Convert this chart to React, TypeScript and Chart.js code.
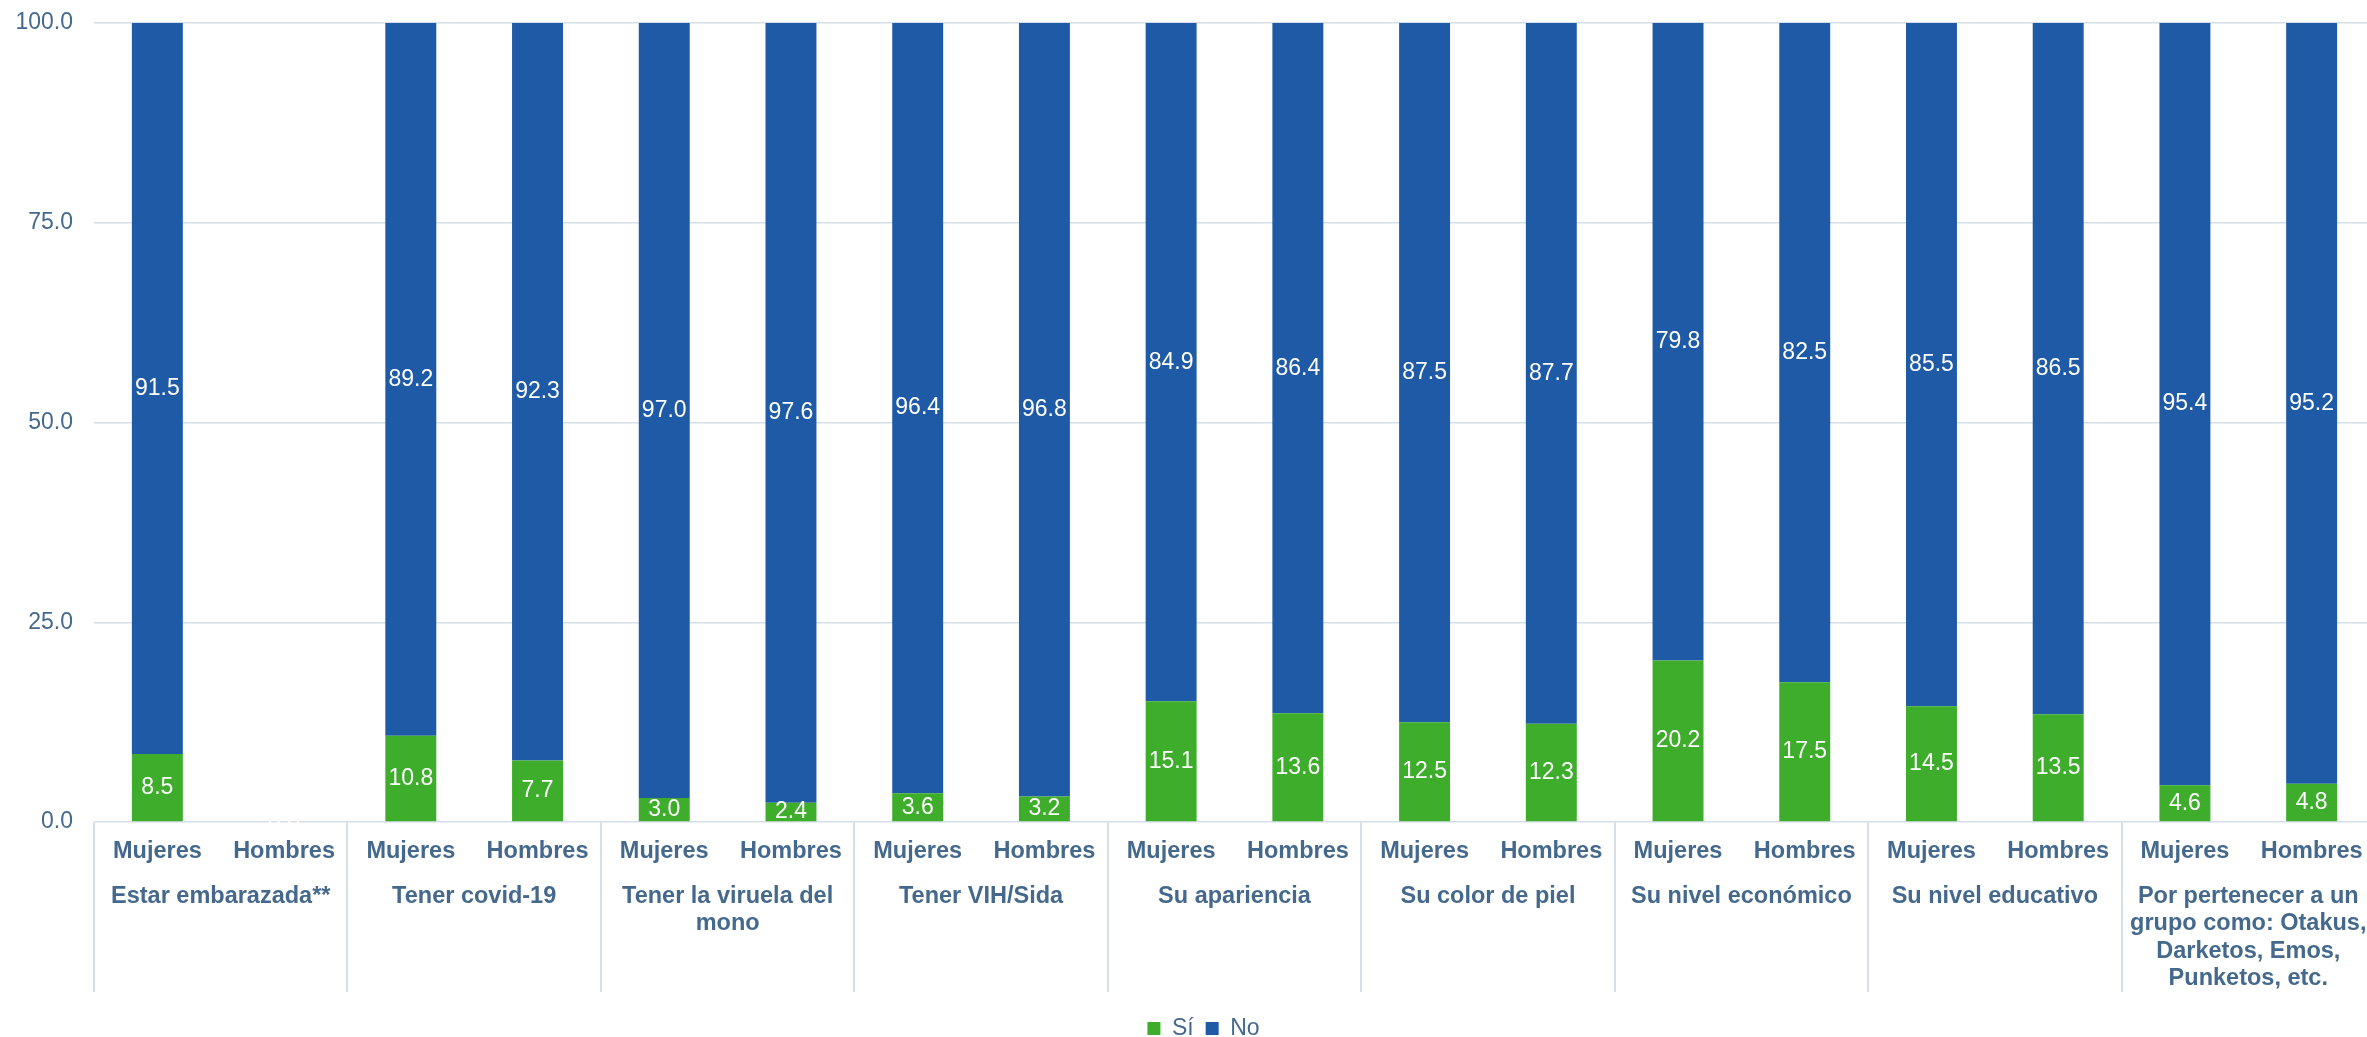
import React, { useEffect, useRef } from "react";
import { Chart, registerables } from "chart.js";

Chart.register(...registerables);

const groups: (string | string[])[] = [
  "Estar embarazada**",
  "Tener covid-19",
  ["Tener la viruela del", "mono"],
  "Tener VIH/Sida",
  "Su apariencia",
  "Su color de piel",
  "Su nivel económico",
  "Su nivel educativo",
  ["Por pertenecer a un", "grupo como: Otakus,", "Darketos, Emos,", "Punketos, etc."],
];
const sexes = ["Mujeres", "Hombres"];
const siValues = [8.5, 0, 10.8, 7.7, 3.0, 2.4, 3.6, 3.2, 15.1, 13.6, 12.5, 12.3, 20.2, 17.5, 14.5, 13.5, 4.6, 4.8];
const noValues = [91.5, 0, 89.2, 92.3, 97.0, 97.6, 96.4, 96.8, 84.9, 86.4, 87.5, 87.7, 79.8, 82.5, 85.5, 86.5, 95.4, 95.2];
const yTicks = [0, 25, 50, 75, 100];

const FONT = "'Liberation Sans', Arial, sans-serif";
const TEXT = "#44698d";
const GRID = "#d5dfe9";
const GREEN = "#3dad2b";
const BLUE = "#1f5aa7";

const barLabels = groups.flatMap(() => sexes);

const valueLabelPlugin = {
  id: "valueLabels",
  afterDatasetsDraw(chart: any) {
    const ctx = chart.ctx;
    ctx.save();
    ctx.font = `23px ${FONT}`;
    ctx.fillStyle = "#ffffff";
    ctx.textAlign = "center";
    ctx.textBaseline = "middle";
    chart.data.datasets.forEach((ds: any, di: number) => {
      const meta = chart.getDatasetMeta(di);
      meta.data.forEach((el: any, i: number) => {
        const v = ds.data[i];
        const y = (el.y + el.base) / 2;
        ctx.fillText(Number(v).toFixed(1), el.x, y);
      });
    });
    ctx.restore();
  },
};

const separatorPlugin = {
  id: "separators",
  afterDraw(chart: any) {
    const ctx = chart.ctx;
    const xs = chart.scales.x;
    const bottom = chart.chartArea.bottom;
    ctx.save();
    ctx.strokeStyle = GRID;
    ctx.lineWidth = 2;
    for (let g = 0; g <= groups.length; g++) {
      const px = Math.round(xs.getPixelForValue(g * sexes.length - 0.5));
      ctx.beginPath();
      ctx.moveTo(px, bottom);
      ctx.lineTo(px, 992);
      ctx.stroke();
    }
    ctx.restore();
  },
};

const legendShiftPlugin = {
  id: "legendShift",
  afterLayout(chart: any) {
    const lg = chart.legend;
    if (!lg) return;
    lg.left += 16;
    lg.right += 16;
    lg.top += 13;
    lg.bottom += 13;
  },
};

export default function App() {
  const ref = useRef<HTMLCanvasElement>(null);
  useEffect(() => {
    if (!ref.current) return;
    const chart = new Chart(ref.current, {
      type: "bar",
      data: {
        labels: barLabels,
        datasets: [
          { label: "Sí", data: siValues, backgroundColor: GREEN, borderWidth: 0, barPercentage: 0.402, categoryPercentage: 1 },
          { label: "No", data: noValues, backgroundColor: BLUE, borderWidth: 0, barPercentage: 0.402, categoryPercentage: 1 },
        ],
      },
      options: {
        responsive: false,
        animation: false,
        devicePixelRatio: 1,
        layout: { padding: { left: 0, right: 1, top: 23, bottom: 0 } },
        plugins: {
          tooltip: { enabled: false },
          legend: {
            position: "bottom",
            labels: {
              boxWidth: 13,
              boxHeight: 13,
              padding: 12,
              color: TEXT,
              font: { family: FONT, size: 23 },
            },
          },
        },
        scales: {
          x: {
            stacked: true,
            weight: 1,
            grid: { display: false },
            border: { display: false },
            ticks: {
              color: TEXT,
              font: { family: FONT, size: 23.5, weight: "bold" },
              padding: 7,
              maxRotation: 0,
              autoSkip: false,
            },
            afterFit: (s: any) => { s.height = 45; },
          },
          x2: {
            type: "category",
            labels: groups as any,
            position: "bottom",
            offset: true,
            weight: 2,
            grid: { display: false },
            border: { display: false },
            ticks: {
              color: TEXT,
              font: { family: FONT, size: 23.5, weight: "bold", lineHeight: 27.3 / 23.5 },
              padding: 8,
              maxRotation: 0,
              autoSkip: false,
            },
            afterFit: (s: any) => { s.height = 125; },
          },
          y: {
            stacked: true,
            min: 0,
            max: 100,
            afterBuildTicks: (s: any) => { s.ticks = yTicks.map((v) => ({ value: v })); },
            grid: { color: GRID, lineWidth: 1.5, drawTicks: false },
            border: { display: false },
            ticks: {
              color: TEXT,
              font: { family: FONT, size: 23 },
              padding: 21,
              callback: (v: any) => Number(v).toFixed(1),
            },
            afterFit: (s: any) => { s.width = 94; s.paddingTop = 0; s.paddingBottom = 0; },
          },
        },
      } as any,
      plugins: [valueLabelPlugin, separatorPlugin, legendShiftPlugin],
    });
    return () => chart.destroy();
  }, []);
  return (
    <div style={{ position: "fixed", left: 0, top: 0, width: 2367, height: 1037, overflow: "hidden", background: "#fff" }}>
      <canvas ref={ref} width={2376} height={1037} style={{ display: "block", width: 2376, height: 1037 }} />
    </div>
  );
}
